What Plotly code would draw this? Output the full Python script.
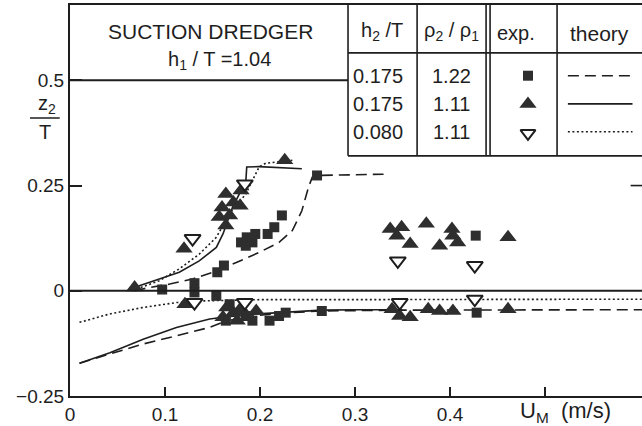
import plotly.graph_objects as go

INK = "#1e1e1e"
FILL = "#2e2e2e"
FONT = "Liberation Sans"

# ---- experiments: h2/T = 0.175, rho2/rho1 = 1.22 (filled squares) ----
sq_u = [0.097, 0.131, 0.155, 0.162, 0.180, 0.185, 0.186, 0.192, 0.195, 0.208,
        0.215, 0.223, 0.260, 0.427,
        0.131, 0.154, 0.168, 0.164, 0.185, 0.192, 0.210, 0.220, 0.227, 0.265,
        0.428]
sq_z = [0.003, 0.018, 0.044, 0.060, 0.115, 0.107, 0.127, 0.115, 0.135, 0.135,
        0.151, 0.179, 0.274, 0.131,
        -0.004, -0.012, -0.032, -0.071, -0.060, -0.071, -0.071, -0.060, -0.052, -0.048,
        -0.052]

# ---- experiments: h2/T = 0.175, rho2/rho1 = 1.11 (filled triangles) ----
tri_u = [0.068, 0.120, 0.164, 0.180, 0.172, 0.160, 0.179, 0.157, 0.168, 0.164,
         0.226, 0.337, 0.349, 0.344, 0.358, 0.375, 0.402, 0.403, 0.389, 0.408,
         0.461,
         0.121, 0.165, 0.161, 0.172, 0.179, 0.176, 0.182, 0.196, 0.339, 0.347,
         0.358, 0.377, 0.389, 0.403, 0.461]
tri_z = [0.008, 0.100, 0.230, 0.238, 0.210, 0.198, 0.202, 0.175, 0.179, 0.155,
         0.310, 0.147, 0.151, 0.131, 0.111, 0.159, 0.147, 0.131, 0.107, 0.115,
         0.127,
         -0.032, -0.040, -0.063, -0.052, -0.044, -0.071, -0.048, -0.048, -0.044, -0.060,
         -0.063, -0.044, -0.048, -0.048, -0.044]

# ---- experiments: h2/T = 0.080, rho2/rho1 = 1.11 (open inverted triangles) ----
inv_u = [0.129, 0.184, 0.345, 0.426, 0.131, 0.184, 0.347, 0.426]
inv_z = [0.124, 0.254, 0.071, 0.060, -0.028, -0.028, -0.028, -0.020]

# ---- theory curves (upper and lower interface branches) ----
dash_up_u = [0.068, 0.084, 0.105, 0.129, 0.150, 0.175, 0.199, 0.220, 0.234, 0.244,
             0.251, 0.255, 0.260, 0.290, 0.330]
dash_up_z = [0.000, 0.008, 0.016, 0.028, 0.044, 0.067, 0.091, 0.115, 0.143, 0.190,
             0.246, 0.270, 0.274, 0.275, 0.277]
dash_lo_u = [0.010, 0.035, 0.076, 0.112, 0.147, 0.164, 0.190, 0.230, 0.265, 0.350,
             0.450, 0.602]
dash_lo_z = [-0.172, -0.155, -0.127, -0.107, -0.087, -0.072, -0.060, -0.052, -0.048, -0.046,
             -0.045, -0.045]

solid_up_u = [0.065, 0.073, 0.094, 0.115, 0.136, 0.154, 0.161, 0.171, 0.180, 0.185,
              0.186, 0.199, 0.244]
solid_up_z = [0.000, 0.012, 0.028, 0.044, 0.071, 0.103, 0.135, 0.198, 0.238, 0.258,
              0.294, 0.295, 0.290]
solid_lo_u = [0.010, 0.042, 0.077, 0.112, 0.147, 0.157, 0.190, 0.230, 0.265, 0.300,
              0.350]
solid_lo_z = [-0.172, -0.147, -0.115, -0.087, -0.067, -0.064, -0.056, -0.050, -0.046, -0.045,
              -0.045]

dot_up_u = [0.070, 0.094, 0.115, 0.136, 0.154, 0.168, 0.185, 0.192, 0.199, 0.206, 0.234]
dot_up_z = [0.004, 0.024, 0.052, 0.087, 0.127, 0.183, 0.230, 0.262, 0.294, 0.303, 0.310]
dot_lo_u = [0.010, 0.042, 0.076, 0.112, 0.140, 0.200, 0.300, 0.450, 0.602]
dot_lo_z = [-0.075, -0.055, -0.040, -0.028, -0.024, -0.021, -0.021, -0.020, -0.020]

# ---- axis ticks ----
x_ticks = [0, 0.1, 0.2, 0.3, 0.4]
x_ticktext = ["0", "0.1", "0.2", "0.3", "0.4"]
x_minor_ticks = [0.5]
y_ticks = [-0.25, 0, 0.25, 0.5]
y_ticktext = ["\u22120.25", "0", "0.25", "0.5"]

# ---- legend table contents ----
tbl_h2 = ["0.175", "0.175", "0.080"]
tbl_rho = ["1.22", "1.11", "1.11"]

X_MAX, Y_MIN, Y_MAX = 0.602, -0.25, 0.679

DASH = "11px,6px"
DOT = "2px,2.5px"

fig = go.Figure()


def curve(u, z, dash):
    fig.add_trace(go.Scatter(x=u, y=z, mode="lines", hoverinfo="skip",
                             line=dict(color=INK, width=1.6, dash=dash)))


curve(dash_up_u, dash_up_z, DASH)
curve(dash_lo_u, dash_lo_z, DASH)
curve(solid_up_u, solid_up_z, "solid")
curve(solid_lo_u, solid_lo_z, "solid")
curve(dot_up_u, dot_up_z, DOT)
curve(dot_lo_u, dot_lo_z, DOT)

SQ = dict(symbol="square", size=10, color=FILL, line=dict(width=0))
TRI = dict(symbol="triangle-up", size=15, color=FILL, line=dict(width=0))
INV = dict(symbol="triangle-down", size=14, color="white", line=dict(width=2, color=INK))

fig.add_trace(go.Scatter(x=sq_u, y=sq_z, mode="markers", marker=SQ))
fig.add_trace(go.Scatter(x=tri_u, y=tri_z, mode="markers", marker=TRI))
fig.add_trace(go.Scatter(x=inv_u, y=inv_z, mode="markers", marker=INV))

# ---- table geometry (data units) ----
tbl_left, col_a, col_b1, col_b2, col_c = 0.2926, 0.3653, 0.4379, 0.4421, 0.5126
hdr_bottom, tbl_bottom = 0.5653, 0.3207
row_z = [0.511, 0.444, 0.378]

shapes = []


def hline(x0, x1, y, w=1.8, dash="solid", xref="x"):
    shapes.append(dict(type="line", xref=xref, yref="y", x0=x0, x1=x1, y0=y, y1=y,
                       line=dict(color=INK, width=w, dash=dash)))


def vline(x, y0, y1, w=1.6):
    shapes.append(dict(type="line", xref="x", yref="y", x0=x, x1=x, y0=y0, y1=y1,
                       line=dict(color=INK, width=w)))


hline(0, X_MAX, 0.0, w=2)           # z = 0 line
hline(0, tbl_left, 0.5, w=2)        # z = 0.5 line
hline(0.590, X_MAX, 0.25, w=1.6)    # right-side tick at 0.25
hline(tbl_left, X_MAX, hdr_bottom, w=1.6)
hline(tbl_left, X_MAX, tbl_bottom, w=1.8)
for xv in (tbl_left, col_a, col_b1, col_b2, col_c):
    vline(xv, tbl_bottom, Y_MAX)

# theory keys in the table
for zr, d in zip(row_z, (DASH, "solid", DOT)):
    hline(0.524, 0.592, zr, w=1.6, dash=d)

# z2/T fraction bar next to the axis
shapes.append(dict(type="line", xref="paper", yref="paper", x0=-0.070, x1=-0.018,
                   y0=0.711, y1=0.711, line=dict(color=INK, width=1.5)))

# experiment keys in the table
key_u = 0.482
fig.add_trace(go.Scatter(x=[key_u], y=[row_z[0]], mode="markers", marker=SQ, cliponaxis=False))
fig.add_trace(go.Scatter(x=[key_u], y=[row_z[1]], mode="markers", marker=TRI, cliponaxis=False))
fig.add_trace(go.Scatter(x=[key_u], y=[row_z[2] - 0.004], mode="markers",
                         marker=dict(INV, size=13), cliponaxis=False))

ann = []


def text(x, y, s, size=20, xanchor="center", xref="x", yref="y"):
    ann.append(dict(x=x, y=y, xref=xref, yref=yref, text=s, showarrow=False,
                    xanchor=xanchor, yanchor="middle",
                    font=dict(family=FONT, size=size, color=INK)))


text(0.148, 0.615, "SUCTION DREDGER", size=21)
text(0.157, 0.548, "h<sub>1</sub> / T =1.04")
text(0.328, 0.615, "h<sub>2</sub> /T")
text(0.401, 0.615, "\u03c1<sub>2</sub> / \u03c1<sub>1</sub>")
text(0.469, 0.612, "exp.")
text(0.557, 0.612, "theory", size=21)
for zr, a, b in zip(row_z, tbl_h2, tbl_rho):
    text(0.2955, zr, a, xanchor="left")
    text(0.401, zr, b)

text(-0.040, 0.745, "z<sub>2</sub>", xref="paper", yref="paper")
text(-0.043, 0.674, "T", xref="paper", yref="paper")
text(0.522, -0.040, "U<sub>M</sub>  (m/s)", size=22, yref="paper")

fig.update_layout(
    width=642, height=426,
    margin=dict(l=70, r=0, t=5, b=30),
    paper_bgcolor="white", plot_bgcolor="white",
    showlegend=False,
    shapes=shapes, annotations=ann,
    font=dict(family=FONT, size=19, color=INK),
    xaxis=dict(range=[0, X_MAX], showgrid=False, zeroline=False,
               showline=True, linecolor=INK, linewidth=2, mirror=True,
               ticks="inside", ticklen=9, tickwidth=1.5, tickcolor=INK,
               tickvals=x_ticks, ticktext=x_ticktext,
               minor=dict(tickvals=x_minor_ticks, ticks="inside", ticklen=9,
                          tickwidth=1.5, tickcolor=INK),
               tickfont=dict(family=FONT, size=19, color=INK)),
    yaxis=dict(range=[Y_MIN, Y_MAX], showgrid=False, zeroline=False,
               showline=True, linecolor=INK, linewidth=2,
               ticks="inside", ticklen=12, tickwidth=1.5, tickcolor=INK,
               tickvals=y_ticks, ticktext=y_ticktext,
               tickfont=dict(family=FONT, size=19, color=INK)),
)

fig.write_html("out.html")
